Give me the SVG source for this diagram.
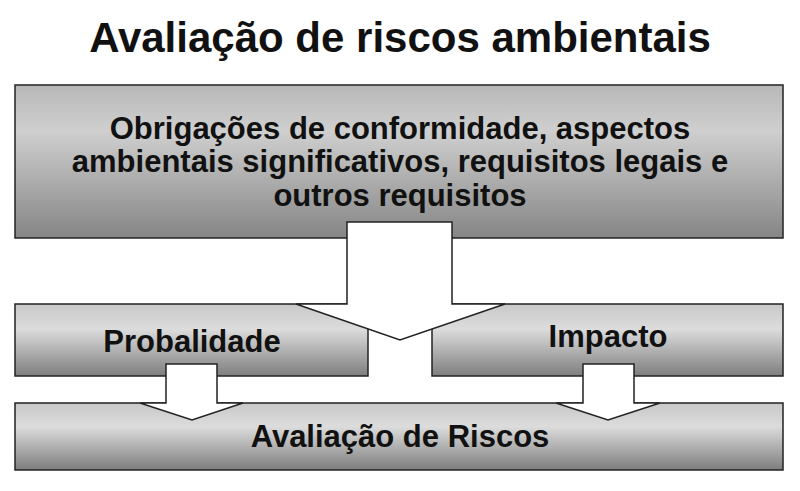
<svg xmlns="http://www.w3.org/2000/svg" width="800" height="491" viewBox="0 0 800 491">
<defs>
<linearGradient id="g" x1="0" y1="0" x2="0" y2="1"><stop offset="0" stop-color="#c8c8c8"/><stop offset="0.35" stop-color="#dcdcdc"/><stop offset="1" stop-color="#7e7e7e"/></linearGradient>
<linearGradient id="gt" x1="0" y1="0" x2="0" y2="1"><stop offset="0" stop-color="#b8b8b8"/><stop offset="0.3" stop-color="#cfcfcf"/><stop offset="1" stop-color="#858585"/></linearGradient>
</defs>
<style>
.box{stroke:#222;stroke-width:1.5}
.arr{fill:#fff;stroke:#222;stroke-width:1.5;stroke-linejoin:miter}
text{font-family:"Liberation Sans",Arial,sans-serif;font-weight:bold;fill:#111;text-anchor:middle}
</style>
<rect width="800" height="491" fill="#fff"/>
<text x="400" y="52" font-size="42">Avaliação de riscos ambientais</text>
<g id="top"><rect class="box" x="15" y="85" width="768" height="153" fill="url(#gt)"/>
<text x="400" y="139" font-size="31">Obrigações de conformidade, aspectos</text>
<text x="400" y="172" font-size="31">ambientais significativos, requisitos legais e</text>
<text x="400" y="206" font-size="31">outros requisitos</text></g>
<g id="prob"><rect class="box" x="15" y="304" width="353" height="72" fill="url(#g)"/><text x="192" y="352" font-size="31">Probalidade</text></g>
<g id="imp"><rect class="box" x="432" y="304" width="351" height="72" fill="url(#g)"/><text x="608" y="347" font-size="31">Impacto</text></g>
<g id="aval"><rect class="box" x="15" y="403" width="768" height="67" fill="url(#g)"/><text x="400" y="447" font-size="31">Avaliação de Riscos</text></g>
<g id="connectors">
<polygon class="arr" points="347,222 452,222 452,304 505,304 400,340 296,304 347,304"/>
<polygon class="arr" points="166,364 217,364 217,403 243,403 192,420 140,403 166,403"/>
<polygon class="arr" points="583,364 634,364 634,403 660,403 608,420 556,403 583,403"/>
</g>
</svg>
